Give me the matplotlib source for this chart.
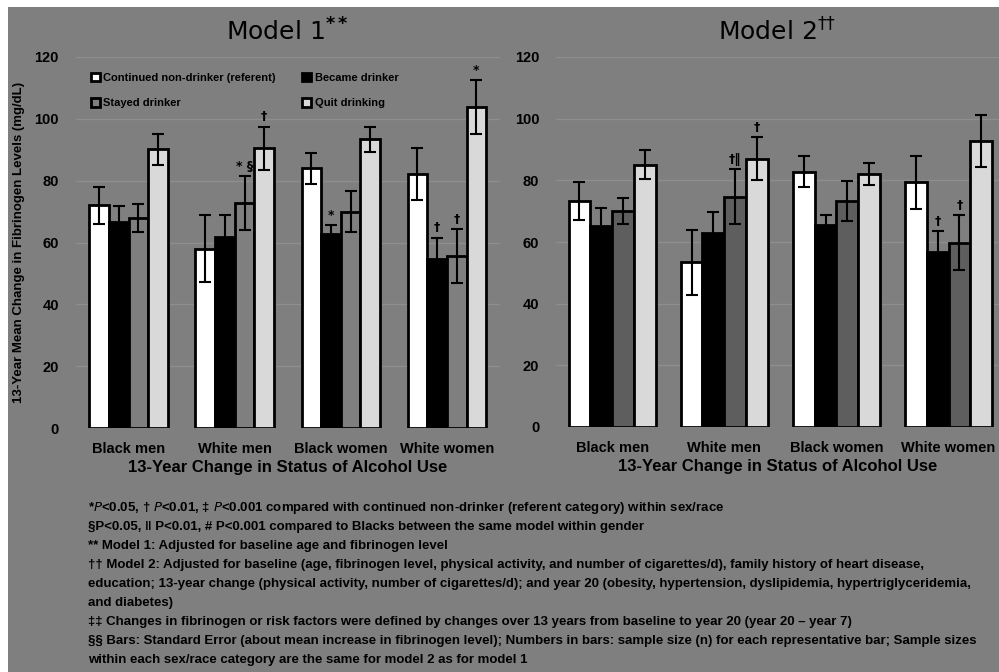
import matplotlib
matplotlib.use('Agg')
import matplotlib.pyplot as plt
import matplotlib.patches as mpatches
from matplotlib import font_manager as fm
import numpy as np

plt.rcParams['font.family'] = ['Liberation Sans', 'DejaVu Sans']

groups = ['Black men', 'White men', 'Black women', 'White women']
series = ['Continued non-drinker (referent)', 'Became drinker', 'Stayed drinker', 'Quit drinking']

# model 1 means and standard errors (rows = series, cols = groups)
m1_vals = [[72.1, 58.0, 84.0, 82.1],
           [66.6, 61.8, 62.7, 54.6],
           [68.0, 72.7, 70.0, 55.6],
           [90.2, 90.5, 93.4, 103.8]]
m1_err = [[6.0, 10.8, 5.0, 8.5],
          [5.3, 7.0, 2.8, 7.0],
          [4.5, 8.8, 6.5, 8.8],
          [5.0, 7.0, 4.0, 8.7]]
m1_marks = [['', '', '', ''],
            ['', '', '*', '\u2020'],
            ['', '* \u00a7', '', '\u2020'],
            ['', '\u2020', '', '*']]

# model 2
m2_vals = [[73.4, 53.4, 82.8, 79.3],
           [65.3, 63.0, 65.6, 56.6],
           [70.0, 74.7, 73.4, 59.8],
           [85.1, 87.0, 82.1, 92.7]]
m2_err = [[6.2, 10.5, 5.0, 8.7],
          [5.8, 6.8, 3.3, 7.0],
          [4.2, 9.0, 6.5, 8.8],
          [4.8, 7.0, 3.6, 8.5]]
m2_marks = [['', '', '', ''],
            ['', '', '', '\u2020'],
            ['', '\u2020\u2016', '', '\u2020'],
            ['', '\u2020', '', '']]

# narrow font if there is one (reference uses a condensed face)
narrow = 'Liberation Sans'
for cand in ['Liberation Sans Narrow', 'DejaVu Sans Condensed']:
    try:
        fm.findfont(fm.FontProperties(family=cand), fallback_to_default=False)
        narrow = cand
        break
    except Exception:
        pass

bg = '#7f7f7f'
W, H = 999, 672
fig = plt.figure(figsize=(W / 100, H / 100), dpi=100, facecolor='white')
fig.patches.append(mpatches.Rectangle((8 / W, 0), 1, 1 - 7 / H, transform=fig.transFigure,
                                      facecolor=bg, edgecolor='none', zorder=-10))


def panel(rect, vals, errs, marks, colors, bw, title, xmax):
    ax = fig.add_axes(rect)
    ax.set_facecolor('none')
    x = np.arange(len(groups))
    for i in range(4):
        pos = x + (i - 1.5) * bw
        ax.bar(pos, vals[i], bw, color=colors[i], edgecolor='black', linewidth=2,
               label=series[i], zorder=2)
        ax.errorbar(pos, vals[i], yerr=errs[i], fmt='none', ecolor='black',
                    elinewidth=1.5, capsize=4, capthick=1.5, zorder=3)
        for j in range(4):
            if marks[i][j]:
                ax.text(pos[j], vals[i][j] + errs[i][j] + 1, marks[i][j], ha='center',
                        va='bottom', fontsize=9, fontweight='bold', color='black',
                        family='DejaVu Sans')
    ax.set_ylim(0, 120)
    ax.set_xlim(-0.5, xmax)
    ax.set_yticks(range(0, 121, 20))
    ax.yaxis.grid(True, color='#8e8e8e', linewidth=1)
    ax.set_axisbelow(True)
    ax.set_xticks(x)
    ax.set_xticklabels(groups, fontsize=10.5, fontweight='bold', family=narrow)
    ax.tick_params(axis='x', length=0, pad=10)
    ax.tick_params(axis='y', length=0, labelsize=10.5, pad=12)
    for lab in ax.get_yticklabels():
        lab.set_fontweight('bold')
    for s in ax.spines.values():
        s.set_visible(False)
    ax.set_xlabel('13-Year Change in Status of Alcohol Use', fontsize=12,
                  fontweight='bold', labelpad=3, family=narrow)
    ax.set_title(title, fontsize=18, pad=12, family='DejaVu Sans')
    return ax


ax1 = panel([75.5 / W, 244 / H, 424.5 / W, 371 / H], m1_vals, m1_err, m1_marks,
            ['white', 'black', bg, '#d9d9d9'], 0.185, r'Model 1$^{\mathbf{**}}$', 3.5)
ax2 = panel([556 / W, 245 / H, 443 / W, 370 / H], m2_vals, m2_err, m2_marks,
            ['white', 'black', '#5e5e5e', '#d9d9d9'], 0.194, 'Model 2$^{\u2020\u2020}$', 3.45)

ax1.set_ylabel('13-Year Mean Change in Fibrinogen Levels (mg/dL)', fontsize=9.5,
               fontweight='bold', labelpad=7, family=narrow)

h, l = ax1.get_legend_handles_labels()
order = [0, 2, 1, 3]
ax1.legend([h[k] for k in order], [l[k] for k in order], ncol=2, frameon=False,
           loc='upper left', bbox_to_anchor=(0.0, 1.0),
           prop={'weight': 'bold', 'size': 8, 'family': narrow},
           handlelength=0.8, handleheight=0.8, columnspacing=2.4, labelspacing=1.4,
           handletextpad=0.3, borderaxespad=1.0)

notes = [
    '*$\\it{P}$<0.05, \u2020 $\\it{P}$<0.01, \u2021 $\\it{P}$<0.001 compared with continued non-drinker (referent category) within sex/race',
    '\u00a7P<0.05, \u2016 P<0.01, # P<0.001 compared to Blacks between the same model within gender',
    '** Model 1: Adjusted for baseline age and fibrinogen level',
    '\u2020\u2020 Model 2: Adjusted for baseline (age, fibrinogen level, physical activity, and number of cigarettes/d), family history of heart disease,',
    'education; 13-year change (physical activity, number of cigarettes/d); and year 20 (obesity, hypertension, dyslipidemia, hypertriglyceridemia,',
    'and diabetes)',
    '\u2021\u2021 Changes in fibrinogen or risk factors were defined by changes over 13 years from baseline to year 20 (year 20 \u2013 year 7)',
    '\u00a7\u00a7 Bars: Standard Error (about mean increase in fibrinogen level); Numbers in bars: sample size (n) for each representative bar; Sample sizes',
    'within each sex/race category are the same for model 2 as for model 1',
]
note_size = 10.5 if narrow != 'Liberation Sans' else 9.55
y0 = 508
for k, t in enumerate(notes):
    fig.text(88 / W, 1 - (y0 + k * 19) / H, t, fontsize=note_size, fontweight='bold',
             va='center', ha='left', family=narrow)

fig.savefig('out.png', dpi=100, facecolor=fig.get_facecolor())
